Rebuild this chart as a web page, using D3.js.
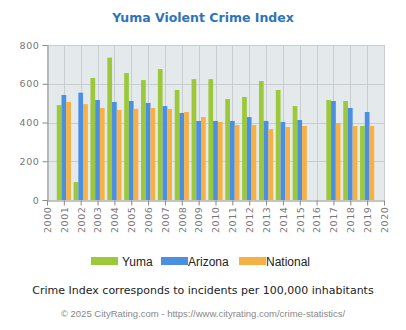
<!DOCTYPE html>
<html>
<head>
<meta charset="utf-8">
<script src="https://cdn.jsdelivr.net/npm/d3@7"></script>
<style>
  html, body { margin: 0; padding: 0; background: #ffffff; }
  svg { display: block; }
</style>
</head>
<body>
<svg id="chart" width="406" height="330"></svg>
<script>
// Violent crime index per 100,000 inhabitants, by year
const years = [2001, 2002, 2003, 2004, 2005, 2006, 2007, 2008, 2009, 2010,
               2011, 2012, 2013, 2014, 2015, 2016, 2017, 2018, 2019];
const yuma     = [490, 93, 630, 735, 655, 619, 676, 568, 624, 624, 521, 532, 614, 568, 485, null, 516, 511, 382];
const arizona  = [542, 554, 516, 506, 511, 501, 485, 449, 408, 408, 408, 428, 408, 403, 413, null, 511, 475, 454];
const national = [506, 495, 475, 465, 471, 475, 470, 454, 428, 403, 387, 387, 366, 377, 382, null, 397, 382, 382];
const yTicks = [0, 200, 400, 600, 800];
const xTickYears = d3.range(2000, 2021);

const seriesNames = ["Yuma", "Arizona", "National"];
const seriesColors = ["#9bc93a", "#4a8fe2", "#f6b043"];
const seriesValues = [yuma, arizona, national];

const svg = d3.select("#chart");
const plot = { left: 47, right: 384, top: 45, bottom: 200 };

const x = d3.scaleLinear().domain([2000, 2020]).range([plot.left, plot.right]);
const y = d3.scaleLinear().domain([0, 800]).range([plot.bottom, plot.top]);

// Title
svg.append("text")
  .attr("x", 203).attr("y", 22)
  .attr("text-anchor", "middle")
  .attr("font-family", "DejaVu Sans, Verdana, sans-serif")
  .attr("font-weight", "bold")
  .attr("font-size", 12.5)
  .attr("fill", "#2f74b8")
  .text("Yuma Violent Crime Index");

// Plot background
svg.append("rect")
  .attr("x", plot.left).attr("y", plot.top)
  .attr("width", plot.right - plot.left).attr("height", plot.bottom - plot.top)
  .attr("fill", "#e4eaec");

// Grid lines
const grid = svg.append("g").attr("stroke", "#c9cdd0").attr("stroke-width", 1);
grid.selectAll("line.v").data(xTickYears.slice(1)).join("line")
  .attr("x1", d => Math.round(x(d)) + 0.5).attr("x2", d => Math.round(x(d)) + 0.5)
  .attr("y1", plot.top).attr("y2", plot.bottom);
grid.selectAll("line.h").data(yTicks.slice(1)).join("line")
  .attr("x1", plot.left).attr("x2", plot.right)
  .attr("y1", d => Math.round(y(d)) + 0.5).attr("y2", d => Math.round(y(d)) + 0.5);

// Bars
const step = x(2001) - x(2000);
const barW = step * 0.28;
seriesValues.forEach((vals, si) => {
  svg.append("g").attr("fill", seriesColors[si])
    .selectAll("rect")
    .data(years.map((yr, i) => ({ yr, v: vals[i] })).filter(d => d.v != null))
    .join("rect")
    .attr("x", d => x(d.yr) - 1.5 * barW + si * barW)
    .attr("width", barW)
    .attr("y", d => y(d.v))
    .attr("height", d => y(0) - y(d.v));
});

// Y axis
const yAxis = svg.append("g")
  .attr("transform", `translate(${plot.left + 0.5},0)`)
  .call(d3.axisLeft(y).tickValues(yTicks).tickSize(5).tickPadding(3).tickSizeOuter(0));
yAxis.select(".domain").attr("stroke", "#888");
yAxis.selectAll(".tick line").attr("stroke", "#888");
yAxis.selectAll("text")
  .attr("font-family", "DejaVu Sans, Verdana, sans-serif")
  .attr("font-size", 9.5)
  .attr("letter-spacing", 0.6)
  .attr("fill", "#777");

// X axis
const xAxis = svg.append("g")
  .attr("transform", `translate(0,${plot.bottom + 0.5})`)
  .call(d3.axisBottom(x).tickValues(xTickYears).tickFormat(d3.format("d")).tickSize(5).tickSizeOuter(0));
xAxis.select(".domain").attr("stroke", "#888");
xAxis.selectAll(".tick line").attr("stroke", "#888");
xAxis.selectAll("text")
  .attr("font-family", "DejaVu Sans, Verdana, sans-serif")
  .attr("font-size", 9.5)
  .attr("letter-spacing", 0.6)
  .attr("fill", "#777")
  .attr("text-anchor", "end")
  .attr("dy", "0.35em")
  .attr("transform", "translate(0,6) rotate(-90)")
  .attr("x", 0).attr("y", 0);

// Legend
const legendItems = [
  { name: seriesNames[0], color: seriesColors[0], sx: 91, tx: 122 },
  { name: seriesNames[1], color: seriesColors[1], sx: 161, tx: 188 },
  { name: seriesNames[2], color: seriesColors[2], sx: 239, tx: 266 }
];
const legend = svg.append("g");
legend.selectAll("rect").data(legendItems).join("rect")
  .attr("x", d => d.sx).attr("y", 257)
  .attr("width", 27).attr("height", 8)
  .attr("fill", d => d.color);
legend.selectAll("text").data(legendItems).join("text")
  .attr("x", d => d.tx).attr("y", 265.5)
  .attr("font-family", "Liberation Sans, Arial, sans-serif")
  .attr("font-size", 12)
  .attr("fill", "#222")
  .text(d => d.name);

// Notes
svg.append("text")
  .attr("x", 203).attr("y", 294)
  .attr("text-anchor", "middle")
  .attr("font-family", "DejaVu Sans, Verdana, sans-serif")
  .attr("font-size", 11)
  .attr("fill", "#222")
  .text("Crime Index corresponds to incidents per 100,000 inhabitants");

svg.append("text")
  .attr("x", 203).attr("y", 317)
  .attr("text-anchor", "middle")
  .attr("font-family", "Liberation Sans, Arial, sans-serif")
  .attr("font-size", 9.5)
  .attr("fill", "#888")
  .text("© 2025 CityRating.com - https://www.cityrating.com/crime-statistics/");
</script>
</body>
</html>
